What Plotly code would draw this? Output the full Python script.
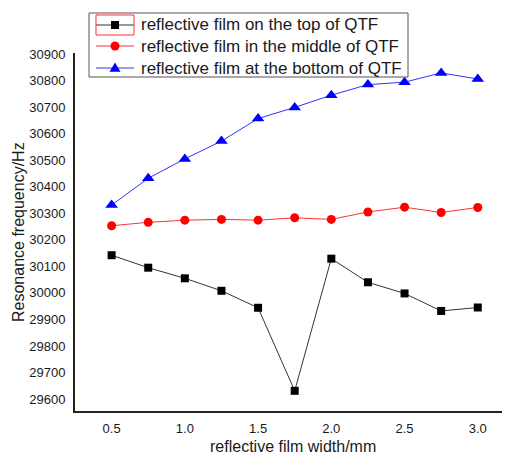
import plotly.graph_objects as go

# reflective film width (mm)
width_mm = [0.5, 0.75, 1.0, 1.25, 1.5, 1.75, 2.0, 2.25, 2.5, 2.75, 3.0]

# resonance frequency (Hz) for each film position
freq_top = [30142, 30095, 30055, 30008, 29944, 29631, 30129, 30040, 29998, 29932, 29945]
freq_middle = [30253, 30266, 30274, 30277, 30274, 30283, 30277, 30305, 30323, 30303, 30322]
freq_bottom = [30331, 30432, 30505, 30572, 30657, 30699, 30745, 30785, 30794, 30829, 30806]

series_names = [
    "reflective film on the top of QTF",
    "reflective film in the middle of QTF",
    "reflective film at the bottom of QTF",
]

y_ticks = list(range(29600, 30901, 100))
x_ticks = [0.5, 1.0, 1.5, 2.0, 2.5, 3.0]
x_ticktext = ["0.5", "1.0", "1.5", "2.0", "2.5", "3.0"]

# the page body has an 8px margin, so the figure is drawn 8px in
OFF = 8
W, H = 510 - OFF, 456 - OFF
M = dict(l=75 - OFF, r=0, t=53 - OFF, b=45)

styles = [
    dict(line="#333333", marker="#000000", symbol="square", size=8),
    dict(line="#ff3333", marker="#ff0000", symbol="circle", size=9),
    dict(line="#3333ff", marker="#0000ff", symbol="triangle-up", size=11),
]

fig = go.Figure()
for name, ys, st in zip(series_names, [freq_top, freq_middle, freq_bottom], styles):
    fig.add_trace(go.Scatter(
        x=width_mm, y=ys, mode="lines+markers", name=name, showlegend=False,
        line=dict(color=st["line"], width=1),
        marker=dict(symbol=st["symbol"], size=st["size"], color=st["marker"]),
    ))

pw = W - M["l"] - M["r"]
ph = H - M["t"] - M["b"]


def px_x(p):
    # page pixel -> paper coordinate
    return (p - OFF - M["l"]) / pw


def px_y(p):
    return 1 - (p - OFF - M["t"]) / ph


# --- legend drawn by hand (Origin-style tight rows) ---
fig.add_shape(type="rect", xref="paper", yref="paper",
              x0=px_x(89), x1=px_x(408), y0=px_y(77), y1=px_y(13),
              line=dict(color="#555555", width=1), fillcolor="white")
row_y = [25, 46, 68]
for name, st, ry in zip(series_names, styles, row_y):
    fig.add_shape(type="line", xref="paper", yref="paper",
                  x0=px_x(96), x1=px_x(134), y0=px_y(ry), y1=px_y(ry),
                  line=dict(color=st["line"], width=1))
    r = st["size"] / 2
    if st["symbol"] == "square":
        fig.add_shape(type="rect", xref="paper", yref="paper",
                      x0=px_x(115 - r), x1=px_x(115 + r), y0=px_y(ry + r), y1=px_y(ry - r),
                      line=dict(width=0), fillcolor=st["marker"])
    elif st["symbol"] == "circle":
        fig.add_shape(type="circle", xref="paper", yref="paper",
                      x0=px_x(115 - r), x1=px_x(115 + r), y0=px_y(ry + r), y1=px_y(ry - r),
                      line=dict(width=0), fillcolor=st["marker"])
    else:
        path = "M {} {} L {} {} L {} {} Z".format(
            px_x(115), px_y(ry - r), px_x(115 - r), px_y(ry + r * 0.7),
            px_x(115 + r), px_y(ry + r * 0.7))
        fig.add_shape(type="path", xref="paper", yref="paper", path=path,
                      line=dict(width=0), fillcolor=st["marker"])
    fig.add_annotation(text=name, xref="paper", yref="paper",
                       x=px_x(139), y=px_y(ry), showarrow=False,
                       xanchor="left", yanchor="middle",
                       font=dict(size=17, color="#1a1a1a"))

# red selection box around the first legend symbol
fig.add_shape(type="rect", xref="paper", yref="paper",
              x0=px_x(96), x1=px_x(134), y0=px_y(35), y1=px_y(15),
              line=dict(color="#ff3333", width=1))

# axis titles placed by hand
fig.add_annotation(text="reflective film width/mm", xref="paper", yref="paper",
                   x=px_x(293), y=px_y(446), showarrow=False,
                   font=dict(size=16), xanchor="center", yanchor="middle")
fig.add_annotation(text="Resonance frequency/Hz", xref="paper", yref="paper",
                   x=px_x(18), y=px_y(232), showarrow=False, textangle=-90,
                   font=dict(size=16), xanchor="center", yanchor="middle")

fig.update_layout(
    width=W, height=H, margin=M,
    paper_bgcolor="white", plot_bgcolor="white",
    font=dict(family="Liberation Sans, Arial, sans-serif", color="#1a1a1a", size=13),
    showlegend=False,
    xaxis=dict(
        range=[0.25, 3.22], tickvals=x_ticks, ticktext=x_ticktext,
        showgrid=False, zeroline=False, showline=True, linecolor="#222222", linewidth=2,
        ticks="", ticklabelstandoff=4, automargin=False,
    ),
    yaxis=dict(
        range=[29555, 30904], tickvals=y_ticks, tickformat="d",
        showgrid=False, zeroline=False, showline=True, linecolor="#222222", linewidth=2,
        ticks="", ticklabelstandoff=5, automargin=False,
    ),
)

fig.write_html("out.html")
